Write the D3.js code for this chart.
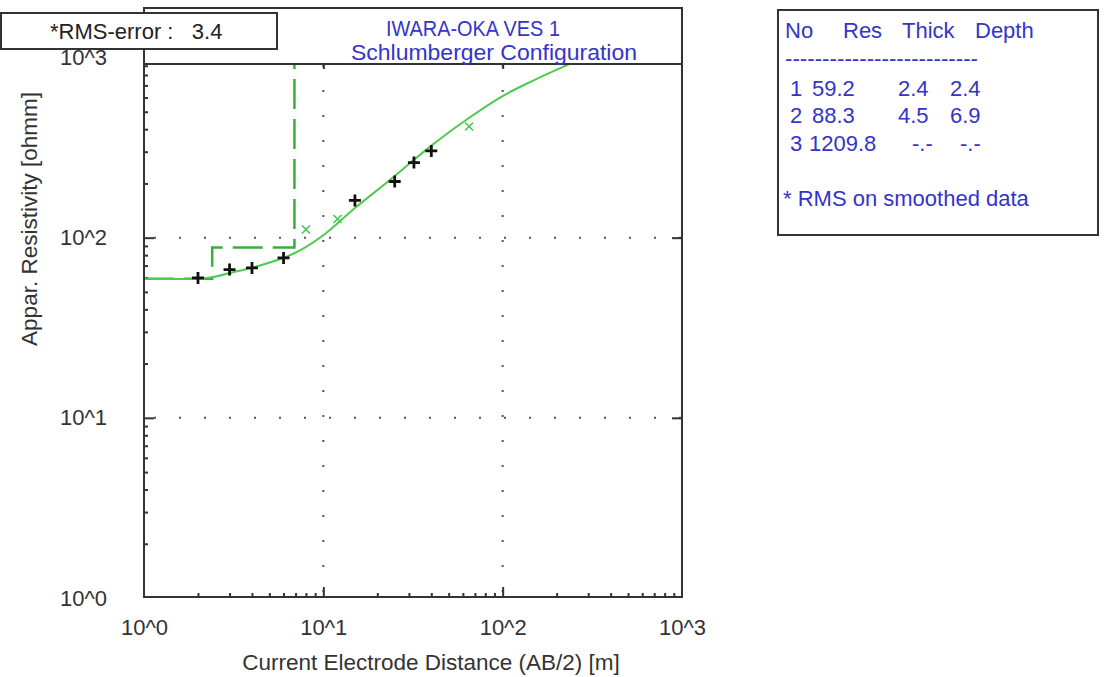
<!DOCTYPE html>
<html>
<head>
<meta charset="utf-8">
<script src="https://cdn.jsdelivr.net/npm/d3@7"></script>
<style>
  html, body { margin: 0; padding: 0; background: #fff; }
  svg { display: block; font-family: "Liberation Sans", Arial, sans-serif; }
</style>
</head>
<body>
<svg id="chart" width="1105" height="677"></svg>
<script>
// ---------------- DATA ----------------
const titleLines = ["IWARA-OKA VES 1", "Schlumberger Configuration"];
const rmsText = "*RMS-error :   3.4";
const xLabel = "Current Electrode Distance (AB/2) [m]";
const yLabel = "Appar. Resistivity [ohmm]";
const xTickValues = [1, 10, 100, 1000];
const yTickValues = [1, 10, 100, 1000];
const tickLabels = ["10^0", "10^1", "10^2", "10^3"];

// measured field data (black +)
const measuredAB = [2, 3, 4, 6, 15, 25, 32, 40];
const measuredRes = [59.8, 66.5, 67.9, 77.2, 161, 205, 261, 303];
// smoothed / shifted points (green x)
const smoothAB = [8, 12, 65];
const smoothRes = [111, 127, 414];
// calculated model curve (solid green)
const curveAB = [1.0, 1.51, 2.05, 2.43, 3.02, 4.05, 5.96, 7.41, 10.2, 15.0, 23.5, 37.4, 58.6, 101, 148, 217, 319];
const curveRes = [59.0, 59.0, 59.3, 60.5, 63.7, 68.3, 77.1, 84.9, 104.8, 146, 209, 307, 430, 614, 745, 887, 1046];
// layered model
const layerNo = [1, 2, 3];
const layerRes = [59.2, 88.3, 1209.8];
const layerThick = [2.4, 4.5, null];
const layerDepth = [2.4, 6.9, null];
const legendHeader = ["No", "Res", "Thick", "Depth"];
const legendNote = "* RMS on smoothed data";

// ---------------- LAYOUT ----------------
const svg = d3.select("#chart");
const plot = { left: 144, right: 682, top: 64, bottom: 597 };
const x = d3.scaleLog().domain([1, 1000]).range([144, 682]);
const y = d3.scaleLog().domain([1, 1000]).range([598, 57.5]);
const axisColor = "#333";
const blue = "#3434c8";
const green = "#4ccb4c";
const fs = 22;

// clip for plot
svg.append("defs").append("clipPath").attr("id", "clip")
  .append("rect").attr("x", plot.left).attr("y", plot.top)
  .attr("width", plot.right - plot.left).attr("height", plot.bottom - plot.top);

// gridlines (dotted)
const grid = svg.append("g");
[10, 100].forEach(v => {
  grid.append("line").attr("x1", x(v)).attr("x2", x(v))
    .attr("y1", plot.top).attr("y2", plot.bottom)
    .attr("stroke", "#555").attr("stroke-width", 2)
    .attr("stroke-dasharray", "2,23").attr("stroke-dashoffset", -26);
  grid.append("line").attr("y1", y(v)).attr("y2", y(v))
    .attr("x1", plot.left).attr("x2", plot.right)
    .attr("stroke", "#555").attr("stroke-width", 2)
    .attr("stroke-dasharray", "2,23").attr("stroke-dashoffset", -10);
});

// minor tick values
const minors = [];
[1, 10, 100].forEach(d => { for (let k = 2; k <= 9; k++) minors.push(d * k); });

const fmt = d => tickLabels[xTickValues.indexOf(d)];

function styleAxis(g) {
  g.select(".domain").remove();
  g.selectAll("line").attr("stroke", axisColor).attr("stroke-width", 2);
  g.selectAll("text").attr("fill", axisColor).attr("font-size", fs)
    .attr("font-family", "Liberation Sans, Arial, sans-serif");
}

// left axis
svg.append("g").attr("transform", `translate(${plot.left},0)`)
  .call(d3.axisLeft(y).tickValues([10, 100]).tickSize(-10).tickFormat(""))
  .call(styleAxis);
svg.append("g").attr("transform", `translate(${plot.left},0)`)
  .call(d3.axisLeft(y).tickValues(minors).tickSize(-4).tickFormat(""))
  .call(styleAxis);
const yLab = svg.append("g").attr("transform", `translate(${plot.left},0)`)
  .call(d3.axisLeft(y).tickValues(yTickValues).tickSize(0).tickPadding(37).tickFormat(fmt))
  .call(styleAxis);
yLab.selectAll("line").remove();

// right axis
svg.append("g").attr("transform", `translate(${plot.right},0)`)
  .call(d3.axisRight(y).tickValues([10, 100]).tickSize(-10).tickFormat(""))
  .call(styleAxis);

// bottom axis
svg.append("g").attr("transform", `translate(0,${plot.bottom})`)
  .call(d3.axisBottom(x).tickValues([10, 100]).tickSize(-10).tickFormat(""))
  .call(styleAxis);
svg.append("g").attr("transform", `translate(0,${plot.bottom})`)
  .call(d3.axisBottom(x).tickValues(minors).tickSize(-4).tickFormat(""))
  .call(styleAxis);
const xLab = svg.append("g").attr("transform", `translate(0,${plot.bottom})`)
  .call(d3.axisBottom(x).tickValues(xTickValues).tickSize(0).tickPadding(22).tickFormat(fmt))
  .call(styleAxis);
xLab.selectAll("line").remove();

// top small ticks
svg.append("g").attr("transform", `translate(0,${plot.top})`)
  .call(d3.axisTop(x).tickValues([10, 100]).tickSize(-5).tickFormat(""))
  .call(styleAxis);

// model step line (dashed)
const stepPts = [[1, layerRes[0]]];
for (let i = 0; i < layerDepth.length; i++) {
  if (layerDepth[i] == null) break;
  stepPts.push([layerDepth[i], layerRes[i]]);
  stepPts.push([layerDepth[i], layerRes[i + 1]]);
}
const plotG = svg.append("g").attr("clip-path", "url(#clip)");
plotG.append("path")
  .attr("d", d3.line().x(d => x(d[0])).y(d => y(d[1]))(stepPts))
  .attr("fill", "none").attr("stroke", "#38b038").attr("stroke-width", 2.5)
  .attr("stroke-dasharray", "30,10");

// calculated curve
const curvePts = curveAB.map((a, i) => [a, curveRes[i]]);
plotG.append("path")
  .attr("d", d3.line().x(d => x(d[0])).y(d => y(d[1])).curve(d3.curveCatmullRom.alpha(0.5))(curvePts))
  .attr("fill", "none").attr("stroke", green).attr("stroke-width", 2);

// green x markers
smoothAB.forEach((a, i) => {
  const cx = x(a), cy = y(smoothRes[i]), s = 4;
  plotG.append("path")
    .attr("d", `M${cx - s},${cy - s}L${cx + s},${cy + s}M${cx - s},${cy + s}L${cx + s},${cy - s}`)
    .attr("stroke", "#4cc44c").attr("stroke-width", 1.6).attr("fill", "none");
});

// black + markers
measuredAB.forEach((a, i) => {
  const cx = x(a), cy = y(measuredRes[i]), s = 6;
  plotG.append("path")
    .attr("d", `M${cx - s},${cy}L${cx + s},${cy}M${cx},${cy - s}L${cx},${cy + s}`)
    .attr("stroke", "#111").attr("stroke-width", 2.8).attr("fill", "none");
});

// frame
svg.append("rect").attr("x", plot.left).attr("y", 8)
  .attr("width", plot.right - plot.left).attr("height", plot.bottom - 8)
  .attr("fill", "none").attr("stroke", axisColor).attr("stroke-width", 2);
svg.append("line").attr("x1", plot.left).attr("x2", plot.right)
  .attr("y1", plot.top).attr("y2", plot.top)
  .attr("stroke", axisColor).attr("stroke-width", 2);

// title
svg.append("text").attr("x", 473).attr("y", 36).attr("text-anchor", "middle")
  .attr("font-size", fs).attr("fill", blue)
  .attr("textLength", 174).attr("lengthAdjust", "spacingAndGlyphs").text(titleLines[0]);
svg.append("text").attr("x", 494).attr("y", 60).attr("text-anchor", "middle")
  .attr("font-size", fs).attr("fill", blue)
  .attr("textLength", 286).attr("lengthAdjust", "spacingAndGlyphs").text(titleLines[1]);

// RMS box
svg.append("rect").attr("x", 1).attr("y", 13).attr("width", 276).attr("height", 36)
  .attr("fill", "#fff").attr("stroke", axisColor).attr("stroke-width", 2);
svg.append("text").attr("x", 50).attr("y", 39).attr("font-size", fs)
  .attr("fill", "#222").attr("xml:space", "preserve").style("white-space", "pre").text(rmsText);

// axis titles
svg.append("text").attr("x", 431).attr("y", 670).attr("text-anchor", "middle")
  .attr("font-size", 22.5).attr("fill", axisColor).text(xLabel);
svg.append("text").attr("transform", "translate(37,219) rotate(-90)")
  .attr("text-anchor", "middle").attr("font-size", 22.5).attr("fill", axisColor).text(yLabel);

// legend box
svg.append("rect").attr("x", 778).attr("y", 10).attr("width", 320).attr("height", 225)
  .attr("fill", "#fff").attr("stroke", axisColor).attr("stroke-width", 2);
const lg = svg.append("g").attr("font-size", fs).attr("fill", blue);
const hdrX = [785, 843, 902, 975];
legendHeader.forEach((h, i) => lg.append("text").attr("x", hdrX[i]).attr("y", 38).text(h));
lg.append("text").attr("x", 785).attr("y", 66).attr("textLength", 193)
  .attr("lengthAdjust", "spacingAndGlyphs").text("-".repeat(26));
const rowY = [96, 123, 151];
layerNo.forEach((n, i) => {
  lg.append("text").attr("x", 790).attr("y", rowY[i]).text(n);
  lg.append("text").attr("x", i === 2 ? 809 : 812).attr("y", rowY[i]).text(layerRes[i].toFixed(1));
  lg.append("text").attr("x", i === 2 ? 912 : 898).attr("y", rowY[i])
    .text(layerThick[i] == null ? "-.-" : layerThick[i].toFixed(1));
  lg.append("text").attr("x", i === 2 ? 960 : 950).attr("y", rowY[i])
    .text(layerDepth[i] == null ? "-.-" : layerDepth[i].toFixed(1));
});
lg.append("text").attr("x", 783).attr("y", 206).text(legendNote);
</script>
</body>
</html>
